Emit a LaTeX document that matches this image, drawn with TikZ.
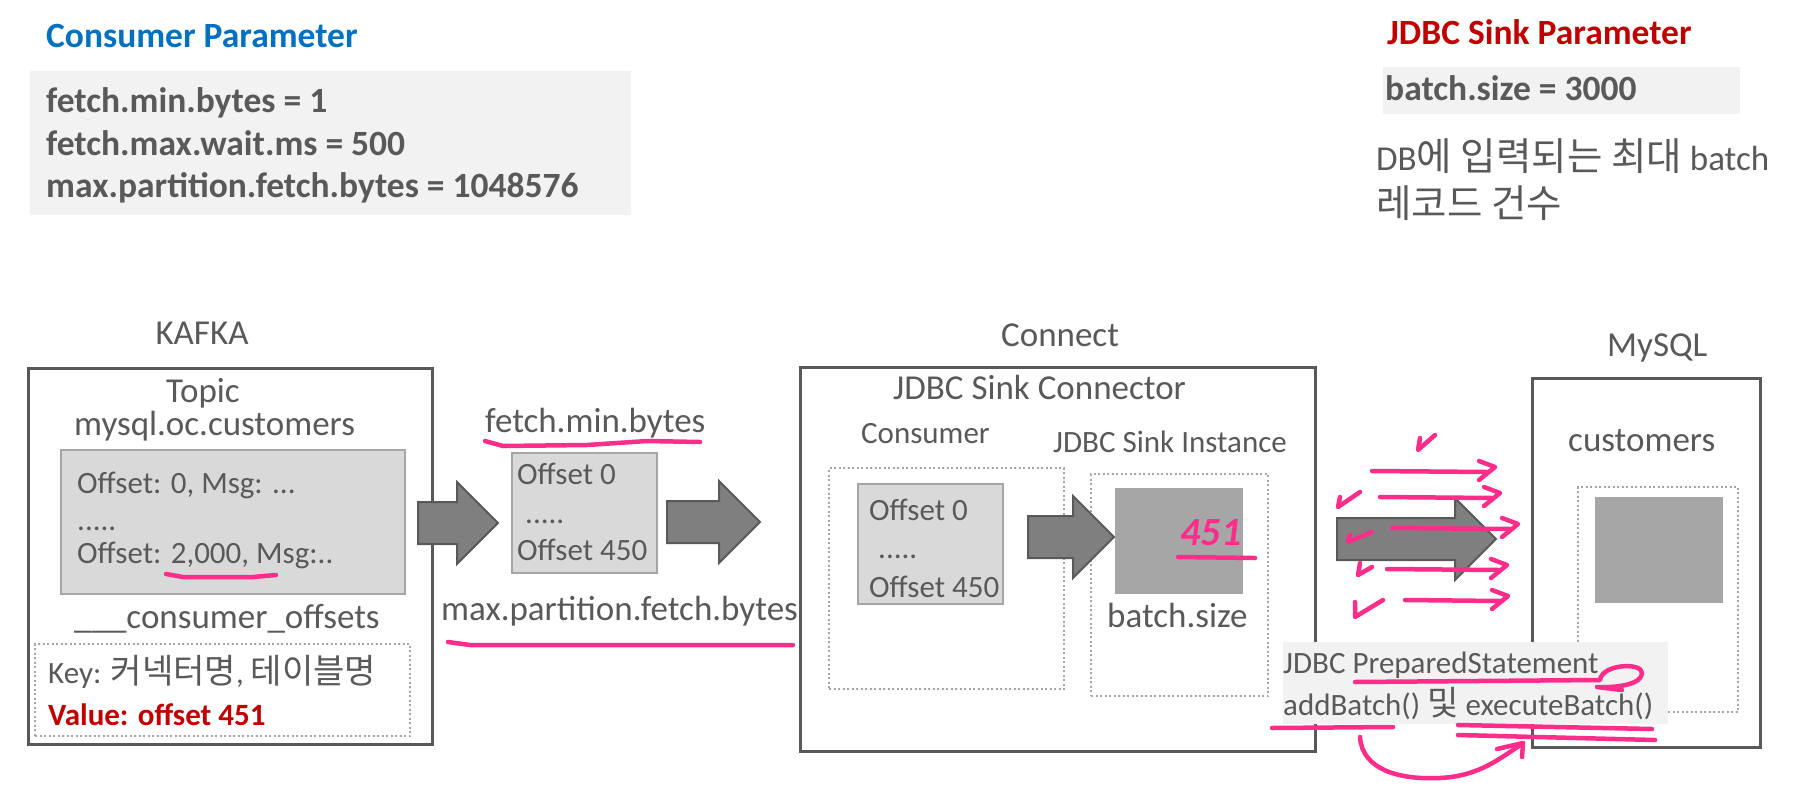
\documentclass[tikz,border=0pt]{standalone}
\usepackage{fontspec}
\setmainfont{Carlito}
\newfontfamily\kr[Scale=1.1]{Noto Sans CJK KR}
\usetikzlibrary{shapes.arrows,positioning}
\definecolor{txtgray}{HTML}{595959}
\definecolor{boxgray}{HTML}{D9D9D9}
\definecolor{boxedge}{HTML}{A6A6A6}
\definecolor{pargray}{HTML}{F2F2F2}
\definecolor{arrowgray}{HTML}{7F7F7F}
\definecolor{parblue}{HTML}{0070C0}
\definecolor{parred}{HTML}{C00000}
\definecolor{ink}{HTML}{FF2D8A}

\begin{document}
\begin{tikzpicture}[x=1pt,y=-1pt,
  big/.style={font=\fontsize{35}{42}\selectfont,text=txtgray,inner sep=0,anchor=base west},
  small/.style={font=\fontsize{31}{38}\selectfont,text=txtgray,inner sep=0,anchor=base west},
  param/.style={font=\fontsize{35.5}{42}\selectfont\bfseries,inner sep=0,anchor=base west},
  area/.style={inner sep=0,anchor=north west,minimum width=#1},
  outer/.style={draw=txtgray,line width=2.6pt},
  msgbox/.style={fill=boxgray,draw=boxedge,line width=2pt},
  dotbox/.style={draw=boxedge,line width=2pt,dash pattern=on 2pt off 2.5pt},
  blockarrow/.style={shape=single arrow,fill=arrowgray,draw=txtgray,line width=2pt,
    inner xsep=0,inner ysep=20pt,single arrow head extend=20pt,single arrow tip angle=90,
    anchor=tail,minimum height=#1},
  inkline/.style={draw=ink,line width=4.5pt,line cap=round,line join=round}]
\useasboundingbox (0,0) rectangle (1806,784);

\node[area=601,minimum height=144,fill=pargray] (consparbox) at (30,71) {};
\node[param,text=parblue] (conspar) at (46,48) {Consumer Parameter};
\node[param,text=txtgray] (fminb) at (46,112) {fetch.min.bytes = 1};
\node[param,text=txtgray] (fmaxw) at (46,155) {fetch.max.wait.ms = 500};
\node[param,text=txtgray] (mpfb) at (46,197) {max.partition.fetch.bytes = 1048576};

\node[area=357,minimum height=47,fill=pargray] (sinkparbox) at (1383,67) {};
\node[param,text=parred] (sinkpar) at (1387,45) {JDBC Sink Parameter};
\node[param,text=txtgray] (bsize) at (1385,100) {batch.size = 3000};
\node[big] (bdesc1) at (1376,170) {DB{\kr 에 입력되는 최대} batch};
\node[big] (bdesc2) at (1376,217) {\kr 레코드 건수};

\node[area=404,minimum height=376,outer] (kafka) at (27,367) {};
\node[big,anchor=base] (kafkat) at (202,344) {KAFKA};
\node[big,anchor=base] (topict) at (203,402) {Topic};
\node[big] (topicn) at (74,435) {mysql.oc.customers};
\node[area=344,minimum height=144,msgbox] (topicbox) at (60,449) {};
\node[small] (msg1) at (77,493) {Offset: 0, Msg: ...};
\node[small] (msg2) at (77,530) {.....};
\node[small] (msg3) at (77,563) {Offset: 2,000, Msg:..};
\node[big] (coff) at (74,628) {\_\_\_consumer\_offsets};
\node[area=375,minimum height=92,dotbox] (coffbox) at (34,643) {};
\node[small] (coffkey) at (48,683) {Key: {\kr 커넥터명}, {\kr 테이블명}};
\node[small,text=parred,font=\fontsize{31}{38}\selectfont\bfseries] (coffval) at (48,725) {Value: offset 451};

\node[big] (fminl) at (485,432) {fetch.min.bytes};
\node[area=145,minimum height=120,msgbox] (fetchbox) at (511,452) {};
\node[small] (f1) at (517,484) {Offset 0};
\node[small] (f2) at (525,523) {.....};
\node[small] (f3) at (517,560) {Offset 450};
\node[big] (mpfl) at (441,620) {max.partition.fetch.bytes};

\node[area=515,minimum height=384,outer] (connect) at (799,366) {};
\node[big] (connectt) at (1001,346) {Connect};
\node[big] (sinkconn) at (893,399) {JDBC Sink Connector};
\node[small] (const) at (861,443) {Consumer};
\node[area=235,minimum height=221,dotbox] (consdot) at (828,467) {};
\node[area=145,minimum height=120,msgbox] (consbox) at (857,483) {};
\node[small] (c1) at (869,520) {Offset 0};
\node[small] (c2) at (878,558) {.....};
\node[small] (c3) at (869,597) {Offset 450};
\node[small] (sinkt) at (1053,452) {JDBC Sink Instance};
\node[area=177,minimum height=222,dotbox] (sinkdot) at (1090,473) {};
\node[area=128,minimum height=106,fill=boxedge] (batchsq) at (1115,488) {};
\node[big] (batchl) at (1107,627) {batch.size};

\node[area=228,minimum height=369,outer] (mysql) at (1531,377) {};
\node[big] (mysqlt) at (1607,356) {MySQL};
\node[big] (tblt) at (1568,451) {customers};
\node[area=160,minimum height=225,dotbox] (tbldot) at (1577,486) {};
\node[area=128,minimum height=106,fill=boxedge] (tblsq) at (1595,497) {};

\node[blockarrow=80] (ar1) at (417,523) {};
\node[blockarrow=93] (ar2) at (666,522) {};
\node[blockarrow=86] (ar3) at (1027,537) {};
\node[blockarrow=159] (ar4) at (1336,539) {};

\node[area=385,minimum height=82,fill=pargray] (notebox) at (1283,642) {};
\node[small] (note1) at (1283,673) {JDBC PreparedStatement};
\node[small] (note2) at (1283,715) {addBatch() {\kr 및} executeBatch()};

\node[inner sep=0,text=ink,font=\fontsize{40}{40}\selectfont\bfseries\itshape] (hand451) at (1211,533) {451};
\draw[inkline] (1178,557) -- (1255,558);
\draw[inkline] (166,574) -- (183,577) -- (253,577) -- (276,575);
\draw[inkline] (485,441) -- (503,446) -- (587,445) -- (647,441) -- (700,442);
\draw[inkline] (448,642) -- (470,645) -- (793,645);

\draw[inkline] (1420,438) -- (1418,450) -- (1435,435);
\draw[inkline] (1340,497) -- (1338,507) -- (1360,492);
\draw[inkline] (1350,535) -- (1348,542) -- (1372,532);
\draw[inkline] (1360,563) -- (1358,575) -- (1372,567);
\draw[inkline] (1355,602) -- (1355,617) -- (1383,600);
\foreach \xa/\xb/\yy in {1372/1495/471,1380/1500/497,1392/1518/528,1387/1507/569,1405/1508/600}{
  \draw[inkline] (\xa,\yy) -- (\xb-8,\yy+1);
  \draw[inkline] (\xb-16,\yy-10) -- (\xb,\yy-4) -- (\xb-16,\yy+9);
}

\draw[inkline] (1355,682) -- (1600,680) .. controls (1602,664) and (1642,662) .. (1642,673)
  .. controls (1642,684) and (1618,688) .. (1597,687) -- (1622,690);
\draw[inkline] (1272,728) -- (1393,727);
\draw[inkline] (1458,725) -- (1652,729);
\draw[inkline] (1458,735) -- (1655,740);
\draw[inkline] (1360,737) .. controls (1362,770) and (1400,780) .. (1440,778)
  .. controls (1480,776) and (1500,758) .. (1522,744);
\draw[inkline] (1497,749) -- (1523,743) -- (1522,757);
\end{tikzpicture}
\end{document}
